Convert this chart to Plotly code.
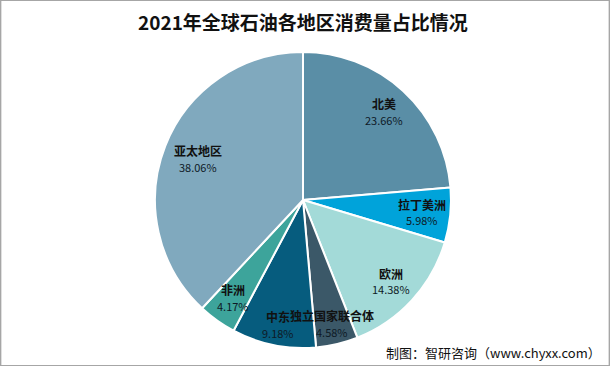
import math
import plotly.graph_objects as go

regions = ["北美", "拉丁美洲", "欧洲", "独立国家联合体", "中东", "非洲", "亚太地区"]
shares = [23.66, 5.98, 14.38, 4.58, 9.18, 4.17, 38.06]
colors = ["#5A8EA6", "#00A3DA", "#A3DAD8", "#3B5868", "#065C7E", "#3DA49B", "#80A9BE"]

W, H = 610, 366
cx, cy, r = 303, 200, 148

fig = go.Figure(go.Pie(
    labels=regions, values=shares, sort=False, direction="clockwise", rotation=0,
    marker=dict(colors=colors, line=dict(color="white", width=2)),
    textinfo="none", hoverinfo="label+value", showlegend=False,
    domain=dict(x=[(cx - r) / W, (cx + r) / W], y=[1 - (cy + r) / H, 1 - (cy - r) / H]),
))

FONT = "Noto Sans CJK SC"
total = sum(shares)
cum = 0.0
anns = []
for name, v in zip(regions, shares):
    frac = (cum + v / 2) / total
    mid = frac * 2 * math.pi
    cum += v
    k = 0.81
    if 0.44 < frac < 0.56:
        k = 0.86
    elif frac > 0.7:
        k = 0.76
    px = cx + k * r * math.sin(mid)
    py = cy - k * r * math.cos(mid)
    anns.append(dict(x=px / W, y=1 - (py - 8) / H, xref="paper", yref="paper",
                     xanchor="center", yanchor="middle",
                     text=f"<b>{name}</b>", showarrow=False,
                     font=dict(family=FONT, size=12, color="#111111")))
    anns.append(dict(x=px / W, y=1 - (py + 8) / H, xref="paper", yref="paper",
                     xanchor="center", yanchor="middle",
                     text=f"{v:.2f}%", showarrow=False,
                     font=dict(family=FONT, size=11, color="#0E1A26")))

anns.append(dict(x=303 / W, y=1 - 22 / H, xref="paper", yref="paper",
                 xanchor="center", yanchor="middle",
                 text="<b>2021年全球石油各地区消费量占比情况</b>", showarrow=False,
                 font=dict(family=FONT, size=19, color="#111111")))
anns.append(dict(x=603 / W, y=1 - 352 / H, xref="paper", yref="paper",
                 xanchor="right", yanchor="middle",
                 text="制图：智研咨询（www.chyxx.com）", showarrow=False,
                 font=dict(family=FONT, size=13, color="#111111")))

fig.update_layout(
    width=W, height=H, margin=dict(l=0, r=0, t=0, b=0),
    paper_bgcolor="white", plot_bgcolor="white",
    annotations=anns,
    shapes=[dict(type="rect", xref="paper", yref="paper", x0=0.001, y0=0.001, x1=0.999, y1=0.999,
                 line=dict(color="#A6A6A6", width=1.5))],
)
fig.write_html("out.html", config={"displayModeBar": False},
               post_script="document.body.style.margin='0';document.body.style.overflow='hidden';")
